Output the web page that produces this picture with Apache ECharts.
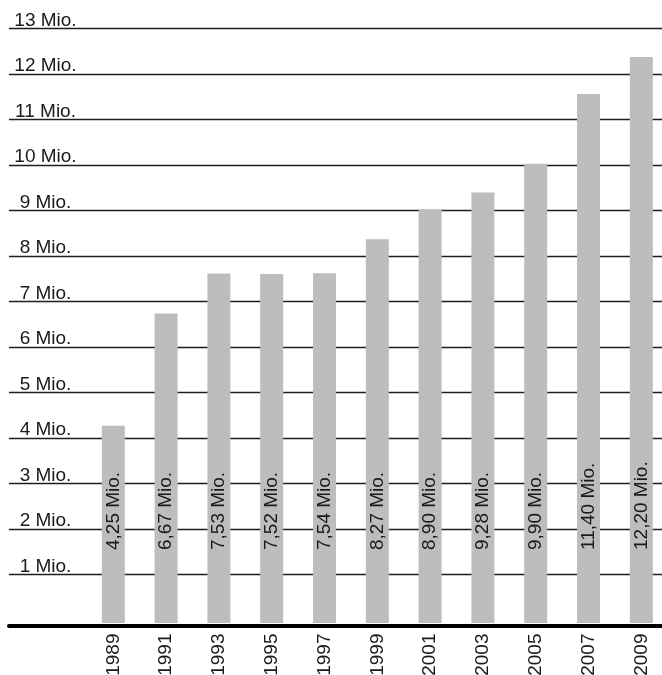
<!DOCTYPE html>
<html>
<head>
<meta charset="utf-8">
<script src="https://cdn.jsdelivr.net/npm/echarts@6/dist/echarts.min.js"></script>
<style>
html,body{margin:0;padding:0;background:#fff;}
#chart{width:662px;height:675px;}
</style>
</head>
<body>
<div id="chart"></div>
<script>
const categories = ['1989','1991','1993','1995','1997','1999','2001','2003','2005','2007','2009'];
const values = [4.25, 6.67, 7.53, 7.52, 7.54, 8.27, 8.90, 9.28, 9.90, 11.40, 12.20];
const valueLabels = ['4,25 Mio.','6,67 Mio.','7,53 Mio.','7,52 Mio.','7,54 Mio.','8,27 Mio.','8,90 Mio.','9,28 Mio.','9,90 Mio.','11,40 Mio.','12,20 Mio.'];
const yMin = 0, yMax = 13, yStep = 1;
const tickSuffix = ' Mio.';

const FONT = 'Liberation Sans';
const chart = echarts.init(document.getElementById('chart'), null, {renderer: 'canvas'});
chart.setOption({
  animation: false,
  backgroundColor: '#fff',
  grid: [
    {left: 9, right: 0, top: 28.3, bottom: 55.2, containLabel: false, outerBoundsMode: 'none'},
    {left: 113.3, right: 20.7, top: 19.8, bottom: 52, containLabel: false, outerBoundsMode: 'none'}
  ],
  xAxis: [
    {
      gridIndex: 0, type: 'category', data: categories, offset: 6,
      axisLine: {show: true, onZero: false, lineStyle: {color: '#000', width: 4}},
      axisTick: {show: false}, axisLabel: {show: false}, splitLine: {show: false}
    },
    {
      gridIndex: 1, type: 'category', data: categories, boundaryGap: false,
      axisLine: {show: false, onZero: false}, axisTick: {show: false}, splitLine: {show: false},
      axisLabel: {rotate: 90, margin: 10.5, fontFamily: FONT, fontSize: 19, color: '#1a1a1a', interval: 0}
    }
  ],
  yAxis: [
    {
      gridIndex: 0, type: 'value', min: yMin, max: yMax, interval: yStep,
      axisLine: {show: false}, axisTick: {show: false},
      splitLine: {show: true, showMinLine: false, lineStyle: {color: '#1e1e1e', width: 1.4}},
      axisLabel: {
        inside: true, margin: 36.5, align: 'center', verticalAlign: 'bottom', lineHeight: 16,
        fontFamily: FONT, fontSize: 19, color: '#1a1a1a',
        formatter: v => (v === 0 ? '' : v + tickSuffix)
      }
    },
    {gridIndex: 1, type: 'value', min: yMin, max: yMax, show: false, splitLine: {show: false}}
  ],
  series: [{
    type: 'bar', xAxisIndex: 1, yAxisIndex: 1, data: values, barWidth: 23,
    itemStyle: {color: '#bcbdbf'},
    label: {
      show: true, position: 'insideBottom', rotate: 90, align: 'left', verticalAlign: 'middle',
      distance: 73, fontFamily: FONT, fontSize: 19, color: '#1a1a1a',
      formatter: p => valueLabels[p.dataIndex]
    }
  }]
});
</script>
</body>
</html>
